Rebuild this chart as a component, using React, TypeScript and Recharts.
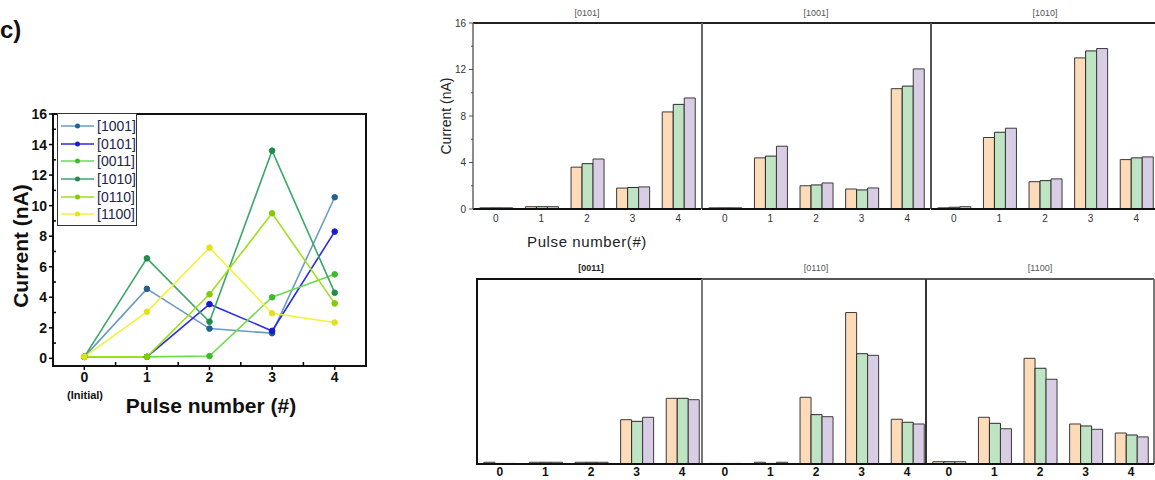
import React from 'react';
import { Bar, BarChart, Legend, Line, LineChart, XAxis, YAxis } from 'recharts';

const FONT = 'Arial, "Liberation Sans", sans-serif';

// pulse index on the x axis
const pulses = [0, 1, 2, 3, 4];
const pulseLabels = ['0', '1', '2', '3', '4'];

// left line chart, current (nA) per pulse
const line1001 = [0.1, 4.55, 1.95, 1.65, 10.55];
const line0101 = [0.1, 0.1, 3.55, 1.8, 8.3];
const line0011 = [0.1, 0.1, 0.15, 4.0, 5.5];
const line1010 = [0.1, 6.55, 2.4, 13.6, 4.3];
const line0110 = [0.1, 0.1, 4.2, 9.5, 3.6];
const line1100 = [0.1, 3.05, 7.25, 2.95, 2.35];

// bar panels: [orange, green, purple] per pulse
const bars0101 = [
  [0.1, 0.2, 3.6, 1.8, 8.35],
  [0.1, 0.2, 3.9, 1.85, 9.0],
  [0.1, 0.2, 4.3, 1.9, 9.55],
];
const bars1001 = [
  [0.1, 4.4, 2.0, 1.72, 10.35],
  [0.1, 4.55, 2.07, 1.64, 10.57],
  [0.1, 5.4, 2.24, 1.81, 12.05],
];
const bars1010 = [
  [0.1, 6.15, 2.35, 13.0, 4.25],
  [0.15, 6.6, 2.44, 13.6, 4.4],
  [0.2, 6.95, 2.59, 13.8, 4.48],
];
const bars0011 = [
  [0.15, 0.15, 0.15, 3.83, 5.68],
  [0.05, 0.15, 0.15, 3.69, 5.68],
  [0.05, 0.15, 0.15, 4.04, 5.56],
];
const bars0110 = [
  [0.05, 0.15, 5.77, 13.1, 3.87],
  [0.05, 0.05, 4.27, 9.54, 3.61],
  [0.05, 0.15, 4.09, 9.4, 3.46],
];
const bars1100 = [
  [0.2, 4.04, 9.14, 3.46, 2.68],
  [0.2, 3.52, 8.28, 3.29, 2.51],
  [0.2, 3.05, 7.33, 3.0, 2.34],
];

const lineSeries = [
  { key: 's1001', name: '[1001]', values: line1001, stroke: '#6a9cc6', dot: '#23608e' },
  { key: 's0101', name: '[0101]', values: line0101, stroke: '#2a2ae8', dot: '#1a1ad0' },
  { key: 's0011', name: '[0011]', values: line0011, stroke: '#6cdc48', dot: '#3cbc2c' },
  { key: 's1010', name: '[1010]', values: line1010, stroke: '#3aa868', dot: '#1f8c48' },
  { key: 's0110', name: '[0110]', values: line0110, stroke: '#9ee01c', dot: '#86c80a' },
  { key: 's1100', name: '[1100]', values: line1100, stroke: '#f2f23a', dot: '#e2e21a' },
];

const lineData = pulses.map((p, i) => {
  const row: any = { pulse: p };
  lineSeries.forEach((s) => (row[s.key] = s.values[i]));
  return row;
});

const barColors = ['#fddab8', '#bfe4c4', '#d9cde6'];

function LeftYTick(props: any) {
  const { x, y, payload } = props;
  const v = payload.value;
  const major = v % 2 === 0;
  return (
    <g>
      {major ? (
        <line x1={x - 4} x2={x} y1={y} y2={y} stroke="#000" strokeWidth={1.5} />
      ) : (
        <line x1={x} x2={x + 3} y1={y} y2={y} stroke="#000" strokeWidth={1.5} />
      )}
      {major && (
        <text x={x - 6} y={y} textAnchor="end" dominantBaseline="central" fontSize={14} fontWeight="bold" fill="#111">
          {v}
        </text>
      )}
    </g>
  );
}

function LeftXTick(props: any) {
  const { x, y, payload } = props;
  const v = payload.value;
  const major = Number.isInteger(v);
  return (
    <g>
      {major ? (
        <line x1={x} x2={x} y1={y} y2={y + 4} stroke="#000" strokeWidth={1.5} />
      ) : (
        <line x1={x} x2={x} y1={y} y2={y - 4} stroke="#000" strokeWidth={1.5} />
      )}
      {major && (
        <text x={x} y={y + 11} textAnchor="middle" dominantBaseline="central" fontSize={14} fontWeight="bold" fill="#111">
          {v}
        </text>
      )}
    </g>
  );
}

function LegendBox() {
  return (
    <div style={{ border: '1px solid #333', background: '#fff', width: 78, padding: '3px 0 2px 0', fontFamily: FONT }}>
      {lineSeries.map((s) => (
        <div key={s.key} style={{ display: 'flex', alignItems: 'center', height: 17.7 }}>
          <svg width={36} height={10} style={{ marginLeft: 2 }}>
            <line x1={1} x2={34} y1={5} y2={5} stroke={s.stroke} strokeWidth={1.5} />
            <circle cx={17.5} cy={5} r={2.5} fill={s.dot} />
          </svg>
          <span style={{ fontSize: 14, color: '#1c2450', marginLeft: 1 }}>{s.name}</span>
        </div>
      ))}
    </div>
  );
}

function LinePanel() {
  return (
    <>
      <div style={{ position: 'absolute', left: 52, top: 113, width: 315, height: 254, border: '2px solid #111', boxSizing: 'border-box' }} />
      <div style={{ position: 'absolute', left: 0, top: 90 }}>
        <LineChart width={380} height={340} data={lineData} margin={{ top: 24, right: 14, bottom: 34, left: 13 }}>
          <XAxis
            type="number"
            dataKey="pulse"
            domain={[-0.5, 4.5]}
            ticks={[0, 0.5, 1, 1.5, 2, 2.5, 3, 3.5, 4]}
            interval={0}
            axisLine={false}
            tickLine={false}
            tickSize={0}
            tickMargin={0}
            height={30}
            tick={<LeftXTick />}
          />
          <YAxis
            type="number"
            domain={[-0.5, 16]}
            ticks={[0, 1, 2, 3, 4, 5, 6, 7, 8, 9, 10, 11, 12, 13, 14, 15, 16]}
            interval={0}
            axisLine={false}
            tickLine={false}
            tickSize={0}
            tickMargin={0}
            width={40}
            tick={<LeftYTick />}
          />
          {lineSeries.map((s) => (
            <Line
              key={s.key}
              dataKey={s.key}
              name={s.name}
              type="linear"
              stroke={s.stroke}
              strokeWidth={1.6}
              dot={{ r: 2.8, fill: s.dot, stroke: s.dot, strokeWidth: 1 }}
              isAnimationActive={false}
            />
          ))}
          <Legend
            layout="vertical"
            align="center"
            verticalAlign="middle"
            wrapperStyle={{ left: 57, top: 23, width: 80 }}
            content={() => <LegendBox />}
          />
        </LineChart>
      </div>
      <div style={{ position: 'absolute', left: 85, top: 395, transform: 'translate(-50%, -50%)', fontSize: 11, fontWeight: 'bold', color: '#111' }}>
        (Initial)
      </div>
      <div style={{ position: 'absolute', left: 211, top: 406, transform: 'translate(-50%, -50%)', fontSize: 21, fontWeight: 'bold', color: '#111', whiteSpace: 'nowrap' }}>
        Pulse number (#)
      </div>
      <div style={{ position: 'absolute', left: 21, top: 246, transform: 'translate(-50%, -50%) rotate(-90deg)', fontSize: 21, fontWeight: 'bold', color: '#111', whiteSpace: 'nowrap' }}>
        Current (nA)
      </div>
    </>
  );
}

function BarYTick(props: any) {
  const { x, y, payload } = props;
  const v = payload.value;
  const major = v % 4 === 0;
  return (
    <g>
      <line x1={x - (major ? 4 : 2)} x2={x} y1={y} y2={y} stroke="#555" strokeWidth={1} />
      {major && (
        <text x={x - 7} y={y} textAnchor="end" dominantBaseline="central" fontSize={10} fill="#333">
          {v}
        </text>
      )}
    </g>
  );
}

function BarXTick(props: any) {
  const { x, y, payload, bold } = props;
  return (
    <text
      x={x}
      y={y + (bold ? 8 : 9)}
      textAnchor="middle"
      dominantBaseline="central"
      fontSize={bold ? 12 : 10}
      fontWeight={bold ? 'bold' : 'normal'}
      fill={bold ? '#111' : '#333'}
      fontFamily={FONT}
    >
      {payload.value}
    </text>
  );
}

type PanelProps = {
  title: string;
  bars: number[][];
  left: number;
  top: number;
  plotH: number;
  showY?: boolean;
  bold?: boolean;
  titleBold?: boolean;
  titleTop: number;
};

const PLOT_W = 228;

function BarPanel({ title, bars, left, top, plotH, showY, bold, titleBold, titleTop }: PanelProps) {
  const data = pulseLabels.map((p, i) => ({ pulse: p, a: bars[0][i], b: bars[1][i], c: bars[2][i] }));
  const yw = showY ? 47 : 0;
  const mTop = 10;
  const xh = 22;
  return (
    <>
      <div
        style={{
          position: 'absolute',
          left: left + PLOT_W / 2,
          top: titleTop,
          transform: 'translate(-50%, -50%)',
          fontSize: 9,
          fontWeight: titleBold ? 'bold' : 'normal',
          color: titleBold ? '#222' : '#555',
          whiteSpace: 'nowrap',
        }}
      >
        {title}
      </div>
      <div style={{ position: 'absolute', left: left - yw, top: top - mTop }}>
        <BarChart
          width={PLOT_W + yw}
          height={mTop + plotH + xh}
          data={data}
          margin={{ top: mTop, right: 0, bottom: 0, left: 0 }}
          barCategoryGap="15%"
          barGap={0}
        >
          <XAxis
            dataKey="pulse"
            height={xh}
            axisLine={{ stroke: '#111', strokeWidth: 2 }}
            tickLine={false}
            tickSize={0}
            tickMargin={0}
            interval={0}
            tick={<BarXTick bold={bold} />}
          />
          <YAxis
            hide={!showY}
            type="number"
            domain={[0, 16]}
            ticks={[0, 2, 4, 6, 8, 10, 12, 14, 16]}
            interval={0}
            width={yw}
            axisLine={{ stroke: '#666', strokeWidth: 1.5 }}
            tickLine={false}
            tickSize={0}
            tickMargin={0}
            tick={<BarYTick />}
          />
          <Bar dataKey="a" fill={barColors[0]} stroke="#3a3a3a" strokeWidth={1} isAnimationActive={false} />
          <Bar dataKey="b" fill={barColors[1]} stroke="#2a2a2a" strokeWidth={1} isAnimationActive={false} />
          <Bar dataKey="c" fill={barColors[2]} stroke="#3a3a3a" strokeWidth={1} isAnimationActive={false} />
        </BarChart>
      </div>
    </>
  );
}

export default function App() {
  return (
    <div style={{ position: 'fixed', left: 0, top: 0, width: 1155, height: 480, background: '#fff', overflow: 'hidden', fontFamily: FONT }}>
      <div style={{ position: 'absolute', left: 0, top: 16, fontSize: 24, fontWeight: 'bold', color: '#111' }}>c)</div>
      <LinePanel />

      {/* top row frame */}
      <div style={{ position: 'absolute', left: 473, top: 22, width: 700, height: 2, background: '#222' }} />
      <div style={{ position: 'absolute', left: 701, top: 23, width: 2, height: 186, background: '#666' }} />
      <div style={{ position: 'absolute', left: 930, top: 23, width: 2, height: 186, background: '#555' }} />
      <BarPanel title="[0101]" bars={bars0101} left={473} top={23} plotH={186} showY titleTop={13} />
      <BarPanel title="[1001]" bars={bars1001} left={702} top={23} plotH={186} titleTop={13} />
      <BarPanel title="[1010]" bars={bars1010} left={931} top={23} plotH={186} titleTop={13} />
      <div style={{ position: 'absolute', left: 587, top: 241, transform: 'translate(-50%, -50%)', fontSize: 15, color: '#222', letterSpacing: 0.6, whiteSpace: 'nowrap' }}>
        Pulse number(#)
      </div>
      <div style={{ position: 'absolute', left: 446, top: 116, transform: 'translate(-50%, -50%) rotate(-90deg)', fontSize: 14, color: '#222', whiteSpace: 'nowrap' }}>
        Current (nA)
      </div>

      {/* bottom row frame */}
      <div style={{ position: 'absolute', left: 476, top: 278, width: 226, height: 2, background: '#111' }} />
      <div style={{ position: 'absolute', left: 702, top: 278, width: 452, height: 1.5, background: '#555' }} />
      <div style={{ position: 'absolute', left: 476, top: 278, width: 2, height: 187, background: '#111' }} />
      <div style={{ position: 'absolute', left: 701, top: 279, width: 1.5, height: 185, background: '#777' }} />
      <div style={{ position: 'absolute', left: 925, top: 279, width: 1.5, height: 185, background: '#333' }} />
      <div style={{ position: 'absolute', left: 1153, top: 279, width: 1.5, height: 185, background: '#777' }} />
      <BarPanel title="[0011]" bars={bars0011} left={477} top={279} plotH={185} bold titleBold titleTop={268} />
      <BarPanel title="[0110]" bars={bars0110} left={702} top={279} plotH={185} bold titleTop={268} />
      <BarPanel title="[1100]" bars={bars1100} left={926} top={279} plotH={185} bold titleTop={268} />
    </div>
  );
}
